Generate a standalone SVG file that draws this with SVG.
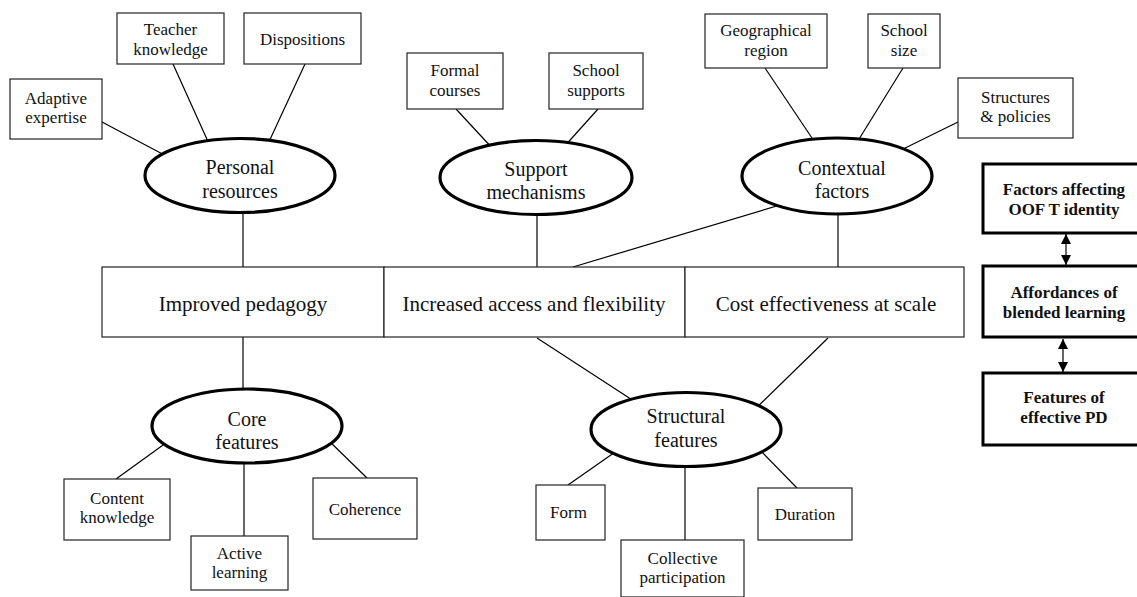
<svg xmlns="http://www.w3.org/2000/svg" width="1137" height="597" viewBox="0 0 1137 597">
<defs>
<style>
.box{fill:#fff;stroke:#222;stroke-width:1.2}
.ell{fill:#fff;stroke:#000;stroke-width:3.2}
.leg{fill:#fff;stroke:#000;stroke-width:3}
.ln{stroke:#000;stroke-width:1.2;fill:none}
text{font-family:'Liberation Serif','Tinos','DejaVu Serif',serif;fill:#111;text-anchor:middle}
.t{font-size:17px}
.te{font-size:20px}
.tm{font-size:21px}
.tb{font-size:17px;font-weight:bold}
</style>
<marker id="ah" viewBox="0 0 10 10" refX="10" refY="5" markerWidth="10" markerHeight="10" markerUnits="userSpaceOnUse" orient="auto-start-reverse">
<path d="M0,0 L10,5 L0,10 z" fill="#000"/>
</marker>
</defs>
<rect width="1137" height="597" fill="#fff"/>
<g id="connectors">
<line class="ln" x1="102" y1="122" x2="170" y2="158"/>
<line class="ln" x1="173" y1="64" x2="210" y2="146"/>
<line class="ln" x1="305" y1="64" x2="267" y2="146"/>
<line class="ln" x1="243" y1="200" x2="243" y2="267"/>
<line class="ln" x1="456" y1="109" x2="494" y2="150"/>
<line class="ln" x1="598" y1="109" x2="563" y2="148"/>
<line class="ln" x1="537" y1="200" x2="537" y2="267"/>
<line class="ln" x1="765" y1="68" x2="816" y2="144"/>
<line class="ln" x1="903" y1="68" x2="856" y2="144"/>
<line class="ln" x1="958" y1="122" x2="895" y2="153"/>
<line class="ln" x1="838" y1="200" x2="838" y2="267"/>
<line class="ln" x1="573" y1="267" x2="790" y2="202"/>
<line class="ln" x1="243" y1="337" x2="243" y2="400"/>
<line class="ln" x1="116" y1="479" x2="170" y2="440"/>
<line class="ln" x1="244" y1="450" x2="244" y2="536"/>
<line class="ln" x1="367" y1="478" x2="326" y2="438"/>
<line class="ln" x1="537" y1="338" x2="640" y2="405"/>
<line class="ln" x1="828" y1="338" x2="750" y2="414"/>
<line class="ln" x1="568" y1="485" x2="618" y2="450"/>
<line class="ln" x1="685" y1="450" x2="685" y2="540"/>
<line class="ln" x1="797" y1="488" x2="756" y2="446"/>
<line class="ln" x1="1066" y1="234" x2="1066" y2="265" marker-start="url(#ah)" marker-end="url(#ah)"/>
<line class="ln" x1="1063" y1="339" x2="1063" y2="372" marker-start="url(#ah)" marker-end="url(#ah)"/>
</g>
<g id="teacher-knowledge"><rect class="box" x="117" y="13" width="107" height="51"/><text class="t" x="170.5" y="35">Teacher</text><text class="t" x="170.5" y="55">knowledge</text></g>
<g id="dispositions"><rect class="box" x="244" y="13" width="117" height="51"/><text class="t" x="302.5" y="45">Dispositions</text></g>
<g id="adaptive-expertise"><rect class="box" x="10" y="79" width="92" height="60"/><text class="t" x="56" y="104">Adaptive</text><text class="t" x="56" y="123">expertise</text></g>
<g id="personal-resources"><ellipse class="ell" cx="240" cy="175.5" rx="95" ry="37"/><text class="te" x="240" y="174">Personal</text><text class="te" x="240" y="198">resources</text></g>
<g id="formal-courses"><rect class="box" x="407" y="53" width="96" height="56"/><text class="t" x="455" y="76">Formal</text><text class="t" x="455" y="96">courses</text></g>
<g id="school-supports"><rect class="box" x="549" y="53" width="94" height="56"/><text class="t" x="596" y="76">School</text><text class="t" x="596" y="96">supports</text></g>
<g id="support-mechanisms"><ellipse class="ell" cx="536" cy="177.5" rx="96" ry="37"/><text class="te" x="536" y="176">Support</text><text class="te" x="536" y="199">mechanisms</text></g>
<g id="geographical-region"><rect class="box" x="705" y="14" width="122" height="54"/><text class="t" x="766" y="36">Geographical</text><text class="t" x="766" y="56">region</text></g>
<g id="school-size"><rect class="box" x="868" y="14" width="72" height="54"/><text class="t" x="904" y="36">School</text><text class="t" x="904" y="56">size</text></g>
<g id="structures-policies"><rect class="box" x="958" y="78" width="115" height="60"/><text class="t" x="1015.5" y="103">Structures</text><text class="t" x="1015.5" y="122">&amp; policies</text></g>
<g id="contextual-factors"><ellipse class="ell" cx="837" cy="176" rx="95" ry="38"/><text class="te" x="842" y="175">Contextual</text><text class="te" x="842" y="198">factors</text></g>
<g id="affordances-row">
<rect class="box" x="102" y="267" width="282" height="70"/><text class="tm" x="243" y="311">Improved pedagogy</text>
<rect class="box" x="384" y="267" width="301" height="70"/><text class="tm" x="534" y="311">Increased access and flexibility</text>
<rect class="box" x="685" y="267" width="279" height="70"/><text class="tm" x="826" y="311">Cost effectiveness at scale</text>
</g>
<g id="core-features"><ellipse class="ell" cx="247" cy="426" rx="95" ry="37"/><text class="te" x="247" y="426">Core</text><text class="te" x="247" y="449">features</text></g>
<g id="content-knowledge"><rect class="box" x="64" y="479" width="106" height="61"/><text class="t" x="117" y="504">Content</text><text class="t" x="117" y="523">knowledge</text></g>
<g id="active-learning"><rect class="box" x="191" y="536" width="97" height="54"/><text class="t" x="239.5" y="559">Active</text><text class="t" x="239.5" y="578">learning</text></g>
<g id="coherence"><rect class="box" x="313" y="478" width="104" height="61"/><text class="t" x="365" y="515">Coherence</text></g>
<g id="structural-features"><ellipse class="ell" cx="686" cy="429.5" rx="95" ry="37"/><text class="te" x="686" y="423">Structural</text><text class="te" x="686" y="447">features</text></g>
<g id="form"><rect class="box" x="536" y="485" width="69" height="55"/><text class="t" x="568.5" y="518">Form</text></g>
<g id="collective-participation"><rect class="box" x="621" y="540" width="123" height="57"/><text class="t" x="682.5" y="564">Collective</text><text class="t" x="682.5" y="583">participation</text></g>
<g id="duration"><rect class="box" x="758" y="488" width="94" height="52"/><text class="t" x="805" y="520">Duration</text></g>
<g id="legend-factors"><rect class="leg" x="983" y="164" width="170" height="69"/><text class="tb" x="1064" y="195">Factors affecting</text><text class="tb" x="1064" y="215">OOF T identity</text></g>
<g id="legend-affordances"><rect class="leg" x="983" y="266" width="170" height="71"/><text class="tb" x="1064" y="298">Affordances of</text><text class="tb" x="1064" y="318">blended learning</text></g>
<g id="legend-features"><rect class="leg" x="983" y="373" width="170" height="72"/><text class="tb" x="1064" y="403">Features of</text><text class="tb" x="1064" y="423">effective PD</text></g>
</svg>
